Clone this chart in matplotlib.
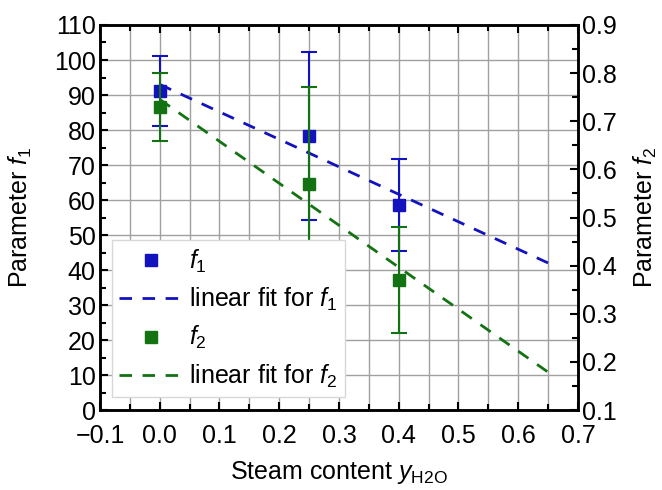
import numpy as np
import matplotlib
matplotlib.use("Agg")
import matplotlib.pyplot as plt
from matplotlib.lines import Line2D
from matplotlib.ticker import MultipleLocator, FuncFormatter, FormatStrFormatter

plt.rcParams['font.family'] = ['Liberation Sans', 'DejaVu Sans']
plt.rcParams['mathtext.fontset'] = 'custom'
plt.rcParams['mathtext.rm'] = 'Liberation Sans'
plt.rcParams['mathtext.it'] = 'Liberation Sans:italic'
plt.rcParams['font.size'] = 18

# Measured parameters versus steam content
steam = [0.0, 0.25, 0.40]
f1 = [91.2, 78.3, 58.6]
f1_err = [10.0, 24.0, 13.1]
f2 = [0.730, 0.569, 0.371]
f2_err = [0.070, 0.2015, 0.110]
fit_range = [0.0, 0.65]

BLUE = '#1212be'
GREEN = '#137313'
LW_FIT = 2.0
DASH = (4.5, 3.8)

fig = plt.figure(figsize=(6.62, 4.90), dpi=100)
ax = fig.add_axes([0.151, 0.163, 0.722, 0.786])
ax2 = ax.twinx()

ax.set_xlim(-0.1, 0.7)
ax.set_ylim(0, 110)
ax2.set_ylim(0.1, 0.9)

ax.xaxis.set_major_locator(MultipleLocator(0.1))
ax.xaxis.set_minor_locator(MultipleLocator(0.05))
ax.yaxis.set_major_locator(MultipleLocator(10))
ax.yaxis.set_minor_locator(MultipleLocator(5))
ax2.yaxis.set_major_locator(MultipleLocator(0.1))
ax2.yaxis.set_minor_locator(MultipleLocator(0.05))

ax.xaxis.set_major_formatter(FuncFormatter(
    lambda v, p: f"{v:.1f}".replace('-', '\u2212')))
ax2.yaxis.set_major_formatter(FormatStrFormatter('%.1f'))

ax.grid(True, which='both', axis='x', color='#a0a0a0', lw=1.0)
ax.grid(True, which='major', axis='y', color='#a0a0a0', lw=1.0)
ax.set_axisbelow(True)

for a in (ax, ax2):
    for s in a.spines.values():
        s.set_linewidth(1.8)
ax.tick_params(which='both', direction='in', top=True, right=False, width=1.5)
ax.tick_params(which='major', length=6)
ax.tick_params(which='minor', length=4)
ax.tick_params(axis='x', pad=10)
ax.tick_params(axis='y', pad=3)
ax2.tick_params(which='both', direction='in', width=1.5, pad=3)
ax2.tick_params(which='major', length=6)
ax2.tick_params(which='minor', length=4)

xfit = np.linspace(fit_range[0], fit_range[1], 50)

# f1 on the left axis
c1 = np.polyfit(steam, f1, 1)
ax.errorbar(steam, f1, yerr=f1_err, fmt='none', ecolor=BLUE, elinewidth=1.5,
            capsize=6, capthick=1.5, zorder=3)
ax.plot(steam, f1, 's', color=BLUE, ms=8, zorder=4)
ax.plot(xfit, np.polyval(c1, xfit), '--', color=BLUE, lw=LW_FIT,
        dashes=DASH, zorder=3)

# f2 on the right axis
c2 = np.polyfit(steam, f2, 1)
ax2.errorbar(steam, f2, yerr=f2_err, fmt='none', ecolor=GREEN, elinewidth=1.5,
             capsize=6, capthick=1.5, zorder=3)
ax2.plot(steam, f2, 's', color=GREEN, ms=8, zorder=4)
ax2.plot(xfit, np.polyval(c2, xfit), '--', color=GREEN, lw=LW_FIT,
         dashes=DASH, zorder=3)

ax.set_xlabel(r'Steam content $y_{\mathrm{H2O}}$', labelpad=8)
ax.set_ylabel(r'Parameter $f_1$', labelpad=14)
ax2.set_ylabel(r'Parameter $f_2$', labelpad=11)

handles = [
    Line2D([], [], ls='none', marker='s', color=BLUE, ms=8.5),
    Line2D([], [], ls='--', color=BLUE, lw=LW_FIT, dashes=DASH),
    Line2D([], [], ls='none', marker='s', color=GREEN, ms=8.5),
    Line2D([], [], ls='--', color=GREEN, lw=LW_FIT, dashes=DASH),
]
labels = [r'$f_1$', r'linear fit for $f_1$', r'$f_2$', r'linear fit for $f_2$']
leg = ax2.legend(handles, labels, loc='lower left', bbox_to_anchor=(0.025, 0.033),
                 frameon=True, fancybox=False, framealpha=1.0,
                 edgecolor='#d8d8d8', handlelength=2.5, labelspacing=0.45,
                 borderpad=0.3, handletextpad=0.3, borderaxespad=0)
leg.get_frame().set_linewidth(1.0)
leg.set_zorder(10)

fig.savefig('out.png', dpi=100)
